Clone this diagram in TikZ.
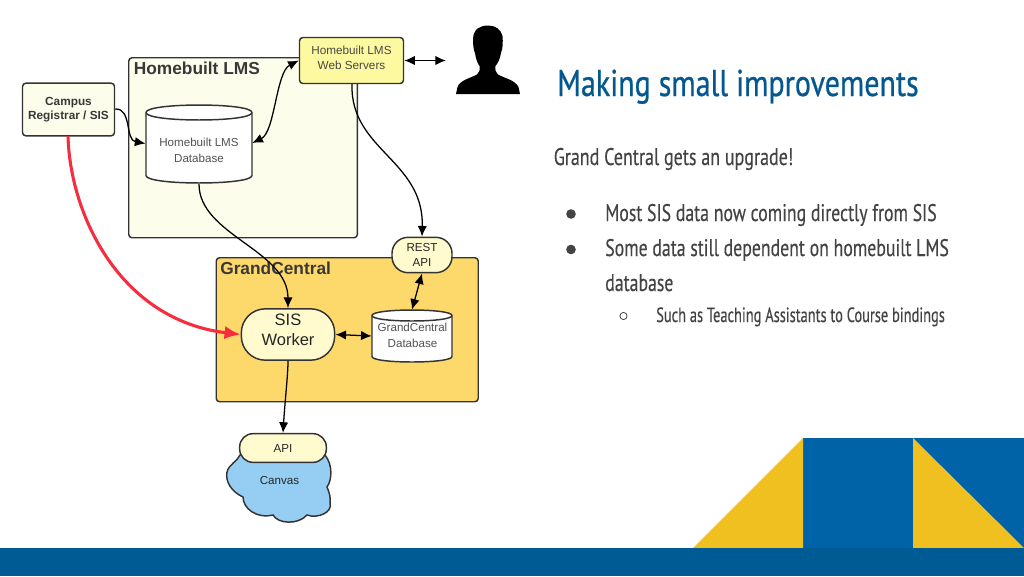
\documentclass[tikz,border=0pt]{standalone}
\usepackage{fontspec}
\usetikzlibrary{arrows.meta}
\setmainfont{Liberation Sans}
\newfontfamily\titlefont[FakeStretch=0.803,FakeBold=0.6]{PT Sans}
\newfontfamily\bodyfont[FakeStretch=0.74,FakeBold=0.3]{PT Sans}
\newfontfamily\leadfont[FakeStretch=0.75,FakeBold=0.3]{PT Sans}
\newfontfamily\subfont[FakeStretch=0.697,FakeBold=0.3]{PT Sans}
\definecolor{slideblue}{HTML}{0063A7}
\definecolor{barblue}{HTML}{005A94}
\definecolor{titleblue}{HTML}{04588F}
\definecolor{slideyellow}{HTML}{F0C020}
\definecolor{bodygrey}{HTML}{434343}
\definecolor{paleyellow}{HTML}{FDFDEB}
\definecolor{cream}{HTML}{FFFBCF}
\definecolor{webyellow}{HTML}{FDF9A0}
\definecolor{gcorange}{HTML}{FDD96C}
\definecolor{cloudblue}{HTML}{96CDF3}
\definecolor{boxline}{HTML}{333333}
\definecolor{redline}{HTML}{F72C3E}
\newcommand{\lifted}[2]{\raisebox{#1}[0pt][0pt]{\begin{tabular}{@{}c@{}}#2\end{tabular}}}
% cylinder outline: x-left, x-right, y-top, y-bottom, vertical radius
\newcommand{\drumshape}[5]{%
 \path[draw=boxline,line width=1.1pt,fill=white]
  ({#1},{#3+#5}) .. controls ({#1},{#3-0.33*#5}) and ({#2},{#3-0.33*#5}) .. ({#2},{#3+#5})
  -- ({#2},{#4-#5}) .. controls ({#2},{#4+0.33*#5}) and ({#1},{#4+0.33*#5}) .. ({#1},{#4-#5}) -- cycle;
 \draw[boxline,line width=1.1pt] ({#1},{#3+#5}) .. controls ({#1},{#3+2.33*#5}) and ({#2},{#3+2.33*#5}) .. ({#2},{#3+#5});}
\tikzset{
 x=0.75pt,y=-0.75pt,
 box/.style={draw=boxline,line width=1.1pt,rounded corners=2.5pt,inner sep=0pt,align=center},
 pill/.style={draw=boxline,line width=1.1pt,rounded corners=12pt,inner sep=0pt,align=center,fill=cream,text=black!85},
 conn/.style={black,line width=0.95pt,-{Latex[length=8pt,width=7pt]}},
 both/.style={black,line width=0.95pt,{Latex[length=8pt,width=7pt]}-{Latex[length=8pt,width=7pt]}},
 dbtext/.style={font=\fontsize{8.7}{11.5}\selectfont,text=black!68,align=center,inner sep=0pt},
 slidetext/.style={anchor=base west,inner sep=0pt,text=bodygrey},
}
\begin{document}
\begin{tikzpicture}
\useasboundingbox (0,0) rectangle (1024,576);
\fill[white] (0,0) rectangle (1024,576);
% decoration
\fill[slideblue] (803,438) rectangle (1024,548);
\fill[slideyellow] (693,548) -- (803,438) -- (803,548) -- cycle;
\fill[slideyellow] (913,438) -- (1024,548) -- (913,548) -- cycle;
\fill[barblue] (0,548) rectangle (1024,576);
% containers
\node[box,fill=paleyellow,minimum width=171.5pt,minimum height=135pt,anchor=north west] (lms) at (128,57) {};
\node[box,fill=gcorange,minimum width=196.5pt,minimum height=108pt,anchor=north west] (gc) at (215.5,257) {};
\node[anchor=west,inner sep=0pt,font=\bfseries\fontsize{13}{15}\selectfont,text=black!78] (lmst) at (133.5,68) {Homebuilt LMS};
\node[anchor=west,inner sep=0pt,font=\bfseries\fontsize{13}{15}\selectfont,text=black!78] (gct) at (220,268) {GrandCentral};
% campus
\node[box,fill=paleyellow,minimum width=69pt,minimum height=39.5pt,font=\bfseries\fontsize{8.85}{11}\selectfont,text=black!78] (campus) at (68.5,109.5) {Campus\\Registrar / SIS};
% lms db
\drumshape{146}{252}{105}{183}{7.5}
\node[inner sep=0pt,minimum width=79.5pt,minimum height=58.5pt] (db) at (199,144) {};
\node[dbtext] (dbt) at (199,150.5) {Homebuilt LMS\\Database};
% web
\node[box,fill=webyellow,minimum width=78pt,minimum height=34.5pt,font=\fontsize{8.8}{11.2}\selectfont,text=black!72] (web) at (351.5,60.5) {\lifted{-1pt}{Homebuilt LMS\\Web Servers}};
% rest
\node[pill,minimum width=45pt,minimum height=26.5pt,font=\fontsize{8.7}{11}\selectfont] (rest) at (422,255) {REST\\API};
% worker
\node[pill,rounded corners=18pt,minimum width=70pt,minimum height=38.5pt,font=\fontsize{12.4}{15}\selectfont] (worker) at (288,334.5) {\lifted{-0.8pt}{SIS\\Worker}};
% gc db
\drumshape{372}{452}{310}{362}{5.5}
\node[inner sep=0pt,minimum width=60pt,minimum height=39pt] (gcdb) at (412,336) {};
\node[dbtext] (gcdbt) at (412.5,335.5) {GrandCentral\\Database};
% cloud
\path[draw=boxline,line width=1.1pt,fill=cloudblue] (240,455) .. controls (237,462) and (229,464) .. (227,472) .. controls (225,482) and (232,492) .. (243,497) .. controls (243,508) and (256,519) .. (273,515) .. controls (278,524) and (298,525) .. (307,515) .. controls (318,519) and (333,512) .. (330,503) .. controls (331,497) and (329,492) .. (327,487) .. controls (332,480) and (333,465) .. (325,455) -- cycle;
\node[inner sep=0pt,font=\fontsize{8.7}{11}\selectfont,text=black!85] (canvas) at (279.5,480) {Canvas};
\node[pill,minimum width=65pt,minimum height=21.5pt,font=\fontsize{8.7}{11}\selectfont,rounded corners=10pt] (api) at (283,448) {API};
% person
\fill[black] (488,25.5) .. controls (480,25.5) and (473.5,29) .. (473,39) .. controls (473,45) and (473.5,50) .. (475,53) .. controls (476,60) and (478,64) .. (479.5,66) .. controls (480,70) and (479.5,72.5) .. (477,74.5) .. controls (471,78) and (460,80) .. (457.5,87) -- (456,94) -- (520,94) -- (518.5,87) .. controls (515,80) and (504,78) .. (498,74.5) .. controls (495.5,72.5) and (495,70) .. (495.5,66) .. controls (498,63) and (500,59) .. (501,53) .. controls (503,48) and (503,42) .. (502.5,36) .. controls (501,29) and (495,25.5) .. (488,25.5) -- cycle;
\coordinate (personside) at (446,60.5);
% connectors
\draw[both] (web.east) -- (personside);
\draw[both] (web.west) .. controls (276,72) and (275,132) .. (db.east |- 0,143);
\draw[conn] (campus.east |- 0,109) .. controls (132,108) and (125,140) .. (145.5,143.5);
\draw[conn] (352,84) .. controls (350,150) and (424,160) .. (rest.north);
\draw[conn] (199,184) .. controls (199,235) and (288,250) .. (worker.north);
\draw[both] (rest.south) -- (gcdb.north);
\draw[both] (worker.east) -- (gcdb.west);
\draw[conn] (worker.south) .. controls (288,375) and (285,400) .. (api.north);
\draw[redline,line width=2.3pt,-{Latex[length=12pt,width=10pt]}] (68,136) .. controls (70,215) and (120,320) .. (worker.west);
% slide text
\node[slidetext,text=titleblue,font=\titlefont\fontsize{28}{32}\selectfont] (title) at (557,96) {Making small improvements};
\node[slidetext,font=\leadfont\fontsize{18}{22}\selectfont] (lead) at (553.5,165) {Grand Central gets an upgrade!};
\node[slidetext,font=\bodyfont\fontsize{18}{22}\selectfont] (b1) at (605,221) {Most SIS data now coming directly from SIS};
\node[slidetext,font=\bodyfont\fontsize{18}{22}\selectfont] (b2) at (605,256) {Some data still dependent on homebuilt LMS};
\node[slidetext,font=\bodyfont\fontsize{18}{22}\selectfont] (b2b) at (605,291) {database};
\node[slidetext,font=\subfont\fontsize{15.5}{20}\selectfont] (b3) at (656,322) {Such as Teaching Assistants to Course bindings};
\fill[bodygrey] (571,214) circle (4.8);
\fill[bodygrey] (571,249.5) circle (4.8);
\draw[bodygrey,line width=0.6pt] (623.5,316) circle (3.6);
\end{tikzpicture}
\end{document}
